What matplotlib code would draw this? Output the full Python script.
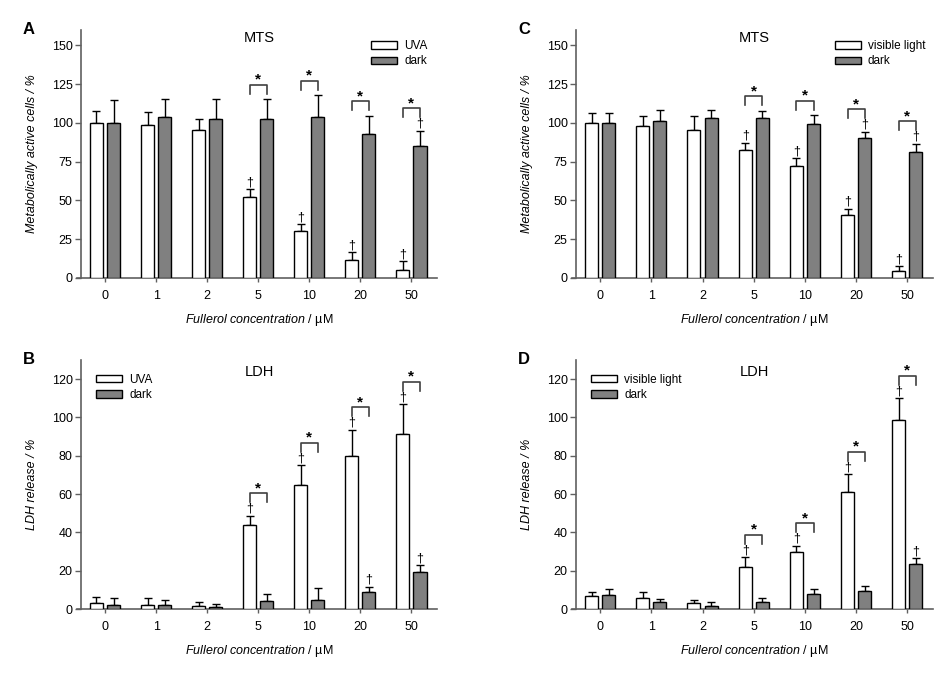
import numpy as np
import matplotlib.pyplot as plt
from matplotlib import rcParams

rcParams['font.family'] = ['Liberation Sans', 'DejaVu Sans']
rcParams['mathtext.fontset'] = 'custom'
rcParams['mathtext.it'] = 'Liberation Sans:italic'
rcParams['mathtext.rm'] = 'Liberation Sans'

conc = ['0', '1', '2', '5', '10', '20', '50']

# A: MTS, UVA
mts_uva = [100, 98.6, 95.6, 52.1, 30.4, 11.6, 4.9]
mts_uva_err = [7.8, 8.5, 7.0, 5.3, 4.3, 5.1, 6.0]
mts_uva_dark = [100, 103.7, 102.9, 102.9, 104.1, 93.2, 85.1]
mts_uva_dark_err = [14.6, 11.8, 12.6, 12.4, 13.8, 11.4, 9.8]
mts_uva_dag = [0, 0, 0, 1, 1, 1, 1]
mts_uva_dark_dag = [0, 0, 0, 0, 0, 0, 1]
mts_uva_star = [0, 0, 0, 1, 1, 1, 1]

# B: LDH, UVA
ldh_uva = [3.1, 2.1, 1.7, 44.0, 64.5, 79.8, 91.3]
ldh_uva_err = [3.3, 3.5, 2.1, 4.7, 10.6, 13.9, 15.5]
ldh_uva_dark = [2.3, 2.3, 1.2, 4.2, 4.7, 8.7, 19.3]
ldh_uva_dark_err = [3.6, 2.2, 1.6, 3.5, 6.3, 2.8, 3.5]
ldh_uva_dag = [0, 0, 0, 1, 1, 1, 1]
ldh_uva_dark_dag = [0, 0, 0, 0, 0, 1, 1]
ldh_uva_star = [0, 0, 0, 1, 1, 1, 1]

# C: MTS, visible light
mts_vis = [100, 98.1, 95.8, 82.9, 72.0, 40.5, 4.5]
mts_vis_err = [6.7, 6.7, 8.6, 4.3, 5.1, 4.1, 3.2]
mts_vis_dark = [100, 101.6, 103.5, 103.1, 99.6, 90.4, 81.0]
mts_vis_dark_err = [6.3, 7.0, 5.1, 4.9, 5.4, 3.9, 5.6]
mts_vis_dag = [0, 0, 0, 1, 1, 1, 1]
mts_vis_dark_dag = [0, 0, 0, 0, 0, 1, 1]
mts_vis_star = [0, 0, 0, 1, 1, 1, 1]

# D: LDH, visible light
ldh_vis = [6.8, 5.7, 3.1, 22.1, 29.6, 61.2, 98.8]
ldh_vis_err = [2.1, 3.0, 1.6, 5.0, 3.3, 9.2, 11.3]
ldh_vis_dark = [7.5, 3.7, 1.7, 3.7, 7.7, 9.6, 23.5]
ldh_vis_dark_err = [2.9, 1.5, 1.8, 2.0, 2.6, 2.4, 3.1]
ldh_vis_dag = [0, 0, 0, 1, 1, 1, 1]
ldh_vis_dark_dag = [0, 0, 0, 0, 0, 0, 1]
ldh_vis_star = [0, 0, 0, 1, 1, 1, 1]

GREY = '#808080'
AXC = '#606060'
W = 950
H = 674

fig = plt.figure(figsize=(9.5, 6.74), dpi=100)


def panel(rect, letter, title, ylabel, ymax, yticks, light, dark, lerr, derr,
          ldag, ddag, star, leg_label, leg_pos, title_y):
    ax = fig.add_axes(rect)
    x = np.arange(len(conc))
    off = 0.167
    bw = 0.255
    ax.bar(x - off, light, bw, color='white', edgecolor='black', linewidth=1.0,
           label=leg_label, zorder=3)
    ax.bar(x + off, dark, bw, color=GREY, edgecolor='black', linewidth=1.0,
           label='dark', zorder=3)
    z = np.zeros(len(conc))
    ax.errorbar(x - off, light, yerr=[z, lerr], fmt='none', ecolor='black',
                elinewidth=1.0, capsize=2.6, capthick=1.0, zorder=2)
    ax.errorbar(x + off, dark, yerr=[z, derr], fmt='none', ecolor='black',
                elinewidth=1.0, capsize=2.6, capthick=1.0, zorder=2)

    ax.set_xlim(-0.47, 6.5)
    ax.set_ylim(0, ymax)
    upp = ymax / (rect[3] * H)  # data units per pixel

    ltop = np.array(light) + np.array(lerr)
    dtop = np.array(dark) + np.array(derr)
    for i in range(len(conc)):
        if ldag[i]:
            ax.text(x[i] - off, ltop[i] + 1 * upp, '\u2020', ha='center',
                    va='bottom', fontsize=9, color='black')
        if ddag[i]:
            ax.text(x[i] + off, dtop[i] + 1 * upp, '\u2020', ha='center',
                    va='bottom', fontsize=9, color='black')
        if star[i]:
            if ltop[i] >= dtop[i]:
                base = ltop[i] + (13.5 if ldag[i] else 5.5) * upp
            else:
                base = dtop[i] + (13.5 if ddag[i] else 5.5) * upp
            top = base + 9 * upp
            ax.plot([x[i] - off, x[i] - off, x[i] + off, x[i] + off],
                    [base, top, top, base], color='#404040', lw=1.2,
                    clip_on=False, zorder=4)
            ax.text(x[i], top + 5 * upp, '*', ha='center', va='center',
                    fontsize=11, fontweight='bold')

    for s in ['top', 'right']:
        ax.spines[s].set_visible(False)
    for s in ['left', 'bottom']:
        ax.spines[s].set_color(AXC)
        ax.spines[s].set_linewidth(1.2)
    ax.spines['bottom'].set_bounds(-0.55, 6.5)
    ax.set_xticks(x)
    ax.set_xticklabels(conc)
    ax.set_yticks(yticks)
    ax.tick_params(axis='y', direction='out', length=4, width=1.0, color=AXC,
                   labelsize=9, pad=2)
    ax.tick_params(axis='x', direction='out', length=3, width=1.0, color=AXC,
                   labelsize=9, pad=6)
    ax.set_ylabel(ylabel, fontsize=9, style='italic', labelpad=10)
    ax.set_xlabel('$\\mathit{Fullerol\\ concentration\\ /}$ \u00b5M', fontsize=9,
                  labelpad=7)
    ax.text(0.5, title_y, title, transform=ax.transAxes, ha='center',
            va='center', fontsize=10.5)
    ax.text(rect[0] - 58 / W, rect[1] + rect[3], letter, transform=fig.transFigure,
            ha='left', va='center', fontsize=12, fontweight='bold')
    ax.legend(loc='upper left', bbox_to_anchor=leg_pos, frameon=False,
              fontsize=8.5, handlelength=2.2, handleheight=0.6, borderpad=0,
              borderaxespad=0, labelspacing=0.3, handletextpad=0.6)
    return ax


top_rect = lambda l, r: [l / W, 1 - 278 / H, (r - l) / W, 248 / H]
bot_rect = lambda l, r: [l / W, 1 - 609 / H, (r - l) / W, 249 / H]

panel(top_rect(81, 437), 'A', 'MTS', 'Metabolically active cells / %', 160,
      [0, 25, 50, 75, 100, 125, 150], mts_uva, mts_uva_dark, mts_uva_err,
      mts_uva_dark_err, mts_uva_dag, mts_uva_dark_dag, mts_uva_star, 'UVA',
      (0.815, 0.96), 0.968)
panel(top_rect(576, 933), 'C', 'MTS', 'Metabolically active cells / %', 160,
      [0, 25, 50, 75, 100, 125, 150], mts_vis, mts_vis_dark, mts_vis_err,
      mts_vis_dark_err, mts_vis_dag, mts_vis_dark_dag, mts_vis_star,
      'visible light', (0.725, 0.96), 0.968)
panel(bot_rect(81, 437), 'B', 'LDH', 'LDH release / %', 130,
      [0, 20, 40, 60, 80, 100, 120], ldh_uva, ldh_uva_dark, ldh_uva_err,
      ldh_uva_dark_err, ldh_uva_dag, ldh_uva_dark_dag, ldh_uva_star, 'UVA',
      (0.042, 0.945), 0.95)
panel(bot_rect(576, 933), 'D', 'LDH', 'LDH release / %', 130,
      [0, 20, 40, 60, 80, 100, 120], ldh_vis, ldh_vis_dark, ldh_vis_err,
      ldh_vis_dark_err, ldh_vis_dag, ldh_vis_dark_dag, ldh_vis_star,
      'visible light', (0.042, 0.945), 0.95)

fig.savefig('out.png', dpi=100)
